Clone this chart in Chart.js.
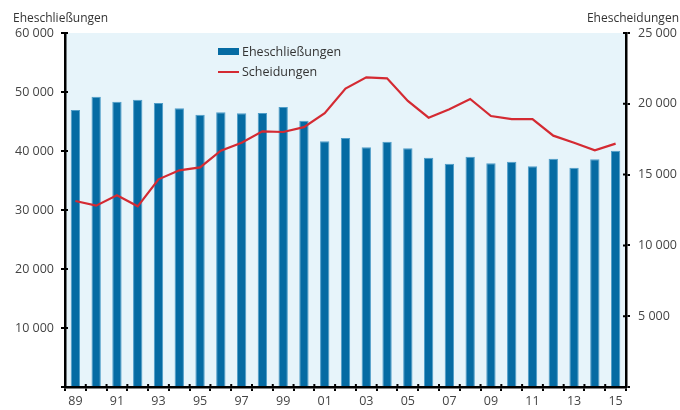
<!DOCTYPE html>
<html>
<head>
<meta charset="utf-8">
<script src="https://cdn.jsdelivr.net/npm/chart.js@4/dist/chart.umd.min.js"></script>
<style>
  html, body { margin: 0; padding: 0; background: #fff; }
  #wrap { position: relative; width: 680px; height: 410px; font-family: "Open Sans", sans-serif; color: #333; }
  #c { position: absolute; left: 0; top: 0; }
  .title { position: absolute; top: 9px; font-size: 12px; }
  .leg { position: absolute; left: 218px; font-size: 12.5px; display: flex; align-items: center; }
  .leg i { display: inline-block; width: 21px; margin-right: 3px; }
</style>
</head>
<body>
<div id="wrap">
  <canvas id="c" width="680" height="410"></canvas>
  <div class="title" style="left:13px">Eheschließungen</div>
  <div class="title" style="right:1px">Ehescheidungen</div>
  <div class="leg" style="top:43px"><i style="height:7px;background:#056ba3"></i>Eheschließungen</div>
  <div class="leg" style="top:63px"><i style="height:2px;background:#d42a32"></i>Scheidungen</div>
</div>
<script>
  // years 1989–2015, two-digit labels
  const years = ["89","90","91","92","93","94","95","96","97","98","99","00","01","02",
                 "03","04","05","06","07","08","09","10","11","12","13","14","15"];
  const marriages = [46950, 49200, 48360, 48700, 48140, 47240, 46150, 46560, 46390, 46440,
                     47460, 45140, 41640, 42200, 40620, 41580, 40450, 38870, 37850, 39040,
                     37910, 38190, 37400, 38700, 37170, 38590, 40060];
  const divorces = [13135, 12806, 13536, 12759, 14666, 15300, 15513, 16690, 17255, 18055,
                    18008, 18350, 19330, 21080, 21870, 21800, 20200, 19020, 19610, 20340,
                    19140, 18920, 18920, 17750, 17250, 16713, 17185];
  const leftTicks = [0, 10000, 20000, 30000, 40000, 50000, 60000];
  const rightTicks = [0, 5000, 10000, 15000, 20000, 25000];

  const fmt = (v) => v === 0 ? "" : String(v).replace(/\B(?=(\d{3})+(?!\d))/g, " ");

  const areaBg = {
    id: "areaBg",
    beforeDraw(chart) {
      const a = chart.chartArea, ctx = chart.ctx;
      ctx.save();
      ctx.fillStyle = "#e7f4fa";
      ctx.fillRect(a.left, a.top, a.right - a.left, a.bottom - a.top);
      ctx.restore();
    },
  };

  // tick marks reach a little inside the plot as well
  const innerTicks = {
    id: "innerTicks",
    afterDraw(chart) {
      const ctx = chart.ctx, a = chart.chartArea;
      ctx.save();
      ctx.strokeStyle = "#000";
      ctx.lineWidth = 2;
      ctx.beginPath();
      chart.scales.y.ticks.forEach((t) => {
        const y = chart.scales.y.getPixelForValue(t.value);
        ctx.moveTo(a.left, y); ctx.lineTo(a.left + 3, y);
      });
      chart.scales.y1.ticks.forEach((t) => {
        const y = chart.scales.y1.getPixelForValue(t.value);
        ctx.moveTo(a.right, y); ctx.lineTo(a.right - 3, y);
      });
      const xs = chart.scales.x;
      const half = (xs.getPixelForValue(1) - xs.getPixelForValue(0)) / 2;
      for (let i = 0; i <= years.length; i++) {
        const x = xs.getPixelForValue(i) - half;
        ctx.moveTo(x, a.bottom); ctx.lineTo(x, a.bottom - 3);
      }
      ctx.stroke();
      ctx.restore();
    },
  };

  const tickFont = { family: "'Open Sans', sans-serif", size: 12.5 };

  new Chart(document.getElementById("c"), {
    data: {
      labels: years,
      datasets: [
        {
          type: "line",
          label: "Scheidungen",
          data: divorces,
          yAxisID: "y1",
          borderColor: "#d42a32",
          borderWidth: 2.2,
          pointRadius: 0,
          tension: 0,
          order: 0,
        },
        {
          type: "bar",
          label: "Eheschließungen",
          data: marriages,
          yAxisID: "y",
          backgroundColor: "#056ba3",
          borderColor: "#4f9dc8",
          borderWidth: 1,
          categoryPercentage: 1,
          barPercentage: 0.45,
          order: 1,
        },
      ],
    },
    options: {
      responsive: false,
      animation: false,
      layout: { padding: { top: 33 } },
      plugins: { legend: { display: false }, tooltip: { enabled: false } },
      scales: {
        x: {
          offset: true,
          grid: { offset: true, drawOnChartArea: false, color: "#000", lineWidth: 2, tickLength: 4 },
          border: { color: "#000", width: 2.5 },
          ticks: {
            autoSkip: false, maxRotation: 0, padding: 3, color: "#444", font: tickFont,
            callback: (v, i) => (i % 2 === 0 ? years[i] : ""),
          },
          afterFit: (s) => { s.height = 23; },
        },
        y: {
          position: "left",
          min: 0, max: 60000,
          afterBuildTicks: (s) => { s.ticks = leftTicks.map((v) => ({ value: v })); },
          grid: { drawOnChartArea: false, color: "#000", lineWidth: 2, tickLength: 4 },
          border: { color: "#000", width: 2.5 },
          ticks: { padding: 7, color: "#444", font: tickFont, callback: fmt },
          afterFit: (s) => { s.width = 65; },
        },
        y1: {
          position: "right",
          min: 0, max: 25000,
          afterBuildTicks: (s) => { s.ticks = rightTicks.map((v) => ({ value: v })); },
          grid: { drawOnChartArea: false, color: "#000", lineWidth: 2, tickLength: 4 },
          border: { color: "#000", width: 2.5 },
          ticks: { padding: 8, color: "#444", font: tickFont, callback: fmt },
          afterFit: (s) => { s.width = 54; },
        },
      },
    },
    plugins: [areaBg, innerTicks],
  });
</script>
</body>
</html>
